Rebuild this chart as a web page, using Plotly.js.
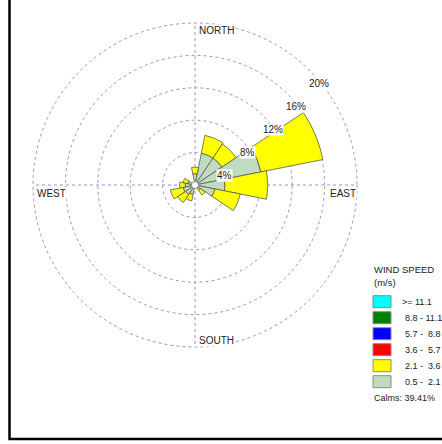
<!DOCTYPE html>
<html><head><meta charset="utf-8">
<script src="https://cdn.plot.ly/plotly-3.0.1.min.js"></script>
<style>html,body{margin:0;padding:0;background:#fff}#chart{width:442px;height:444px}</style>
</head><body><div id="chart"></div>
<script>
// ---- data (percent frequency) ----
const directions = ['N','NNE','NE','ENE','E','ESE','SE','SSE','S','SSW','SW','WSW','W','WNW','NW','NNW'];
const directionAngles = [0,22.5,45,67.5,90,112.5,135,157.5,180,202.5,225,247.5,270,292.5,315,337.5];
const speed05to21 = [1.4,4.0,4.0,8.3,3.7,2.5,0.8,0.4,0.3,1.2,1.4,1.5,1.2,0.9,0.3,0.3];
const speed21to36 = [0.8,2.25,2.1,7.8,5.3,3.2,0.7,0.0,0.0,0.8,1.2,1.6,0.7,0.6,0.0,0.0];
const speedClassLabels = ['>= 11.1','8.8 - 11.1','5.7 -\u00a0\u00a08.8','3.6 -\u00a0\u00a05.7','2.1 -\u00a0\u00a03.6','0.5 -\u00a0\u00a02.1'];
const radialTicks = [4,8,12,16,20];
const radialTickLabels = ['4%','8%','12%','16%','20%'];
const cardinalLabels = ['NORTH','EAST','SOUTH','WEST'];
const calmsPercent = 39.41;

// ---- styles / geometry ----
const W = 442, H = 444;
const CX = 195, CY = 185, R = 162, RMAX = 20;
const classColors = ['#00ffff','#008000','#0000ff','#ff0000','#ffff00','#c0dcc0'];
const gridColor = '#9494d2';
const txt = '#222222';
const font = 'Liberation Sans, Arial, sans-serif';

const px = x => x / W;
const py = y => 1 - y / H;

const barLine = {color: '#5a5a4a', width: 0.8};
const traces = [
  {type:'barpolar', r: speed05to21, theta: directionAngles, width: 22.5,
   marker:{color: classColors[5], line: barLine}, hoverinfo:'skip', showlegend:false},
  {type:'barpolar', r: speed21to36, theta: directionAngles, width: 22.5,
   marker:{color: classColors[4], line: barLine}, hoverinfo:'skip', showlegend:false},
  {type:'scatterpolar', r:[0], theta:[0], mode:'markers',
   marker:{size:7, color:'#ffffff', line:{color:'#777', width:0.8}}, hoverinfo:'skip', showlegend:false}
];

const annotations = [];
const shapes = [];
// outer (20%) dotted ring, which plotly omits at the edge of the radial range
shapes.push({type:'circle', xref:'paper', yref:'paper', x0:px(CX-R), x1:px(CX+R), y0:py(CY+R), y1:py(CY-R),
  line:{color:gridColor, width:1, dash:'dot'}, fillcolor:'rgba(0,0,0,0)', layer:'below'});
// radial percent labels along ~45deg line
radialTicks.forEach((t, i) => {
  const rp = t / RMAX * R;
  const a = Math.PI / 4;
  annotations.push({xref:'paper', yref:'paper', x: px(CX + rp*Math.cos(a)), y: py(CY - rp*Math.sin(a)),
    xanchor:'left', yanchor:'middle', xshift:-2, yshift:-13, showarrow:false,
    text: radialTickLabels[i], bgcolor:'#ffffff', borderpad:0,
    font:{family:font, size:10, color:txt}});
});
// cardinal labels
const cardPos = [[CX+3, CY-154.5],[CX+134, CY+8],[CX+3, CY+155],[CX-159, CY+8]];
cardinalLabels.forEach((c, i) => {
  annotations.push({xref:'paper', yref:'paper', x: px(cardPos[i][0]), y: py(cardPos[i][1]),
    xanchor:'left', yanchor:'middle', showarrow:false, text:c, bgcolor: 'rgba(255,255,255,0.9)', borderpad:0,
    font:{family:font, size:10, color:txt}});
});
// legend
const LX = 373;
annotations.push({xref:'paper', yref:'paper', x:px(LX-1), y:py(269), xanchor:'left', yanchor:'middle', showarrow:false,
  text:'WIND SPEED', font:{family:font, size:9.5, color:txt}});
annotations.push({xref:'paper', yref:'paper', x:px(LX-1), y:py(282), xanchor:'left', yanchor:'middle', showarrow:false,
  text:'(m/s)', font:{family:font, size:9.5, color:txt}});
speedClassLabels.forEach((lab, i) => {
  const yc = 301.7 + 16 * i;
  shapes.push({type:'rect', xref:'paper', yref:'paper', x0:px(LX), x1:px(LX+18), y0:py(yc-6), y1:py(yc+6),
    fillcolor: classColors[i], line:{color:'#8a8a8a', width:1}});
  annotations.push({xref:'paper', yref:'paper', x:px(i === 0 ? 400 : 403), y:py(yc), xanchor:'left', yanchor:'middle',
    showarrow:false, text:lab, font:{family:font, size:9, color:txt}});
});
annotations.push({xref:'paper', yref:'paper', x:px(LX-1), y:py(397.7), xanchor:'left', yanchor:'middle', showarrow:false,
  text:'Calms: ' + calmsPercent.toFixed(2) + '%', font:{family:font, size:9, color:txt}});
// frame
shapes.push({type:'rect', xref:'paper', yref:'paper', x0:px(9.5), x1:px(W+20), y0:py(439), y1:py(-20),
  line:{color:'#000', width:2.5}, fillcolor:'rgba(0,0,0,0)', layer:'above'});

const layout = {
  width: W, height: H, margin:{l:0,r:0,t:0,b:0}, paper_bgcolor:'#fff', showlegend:false,
  polar: {
    domain: {x:[px(CX-R), px(CX+R)], y:[py(CY+R), py(CY-R)]},
    bgcolor:'rgba(0,0,0,0)', barmode:'stack', bargap:0,
    radialaxis: {range:[0, RMAX], tickvals: radialTicks, showticklabels:false, ticks:'',
      showline:false, showgrid:true, gridcolor: gridColor, gridwidth:1, griddash:'dot', layer:'below traces'},
    angularaxis: {rotation:90, direction:'clockwise', dtick:90, showticklabels:false, ticks:'',
      showline:false, showgrid:true, gridcolor: gridColor, gridwidth:1, griddash:'dot', layer:'below traces'}
  },
  annotations, shapes
};
Plotly.newPlot('chart', traces, layout, {staticPlot:true, displayModeBar:false});
</script></body></html>
